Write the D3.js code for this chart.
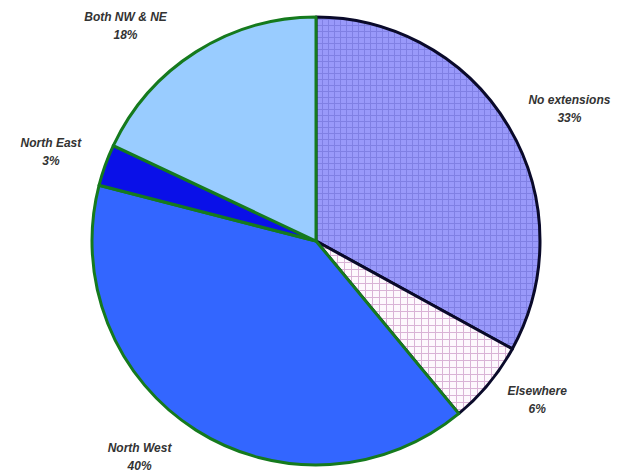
<!DOCTYPE html>
<html>
<head>
<meta charset="utf-8">
<script src="https://cdn.jsdelivr.net/npm/d3@7"></script>
<style>
  body { margin: 0; background: #fff; }
  text { font-family: "Liberation Sans", Arial, sans-serif; font-weight: bold; font-style: italic; fill: #333; font-size: 12px; }
</style>
</head>
<body>
<div id="chart"></div>
<script>
// slices, clockwise from 12 o'clock
const categories = ["No extensions", "Elsewhere", "North West", "North East", "Both NW & NE"];
const values = [33, 6, 40, 3, 18];
const labels = ["33%", "6%", "40%", "3%", "18%"];

const width = 626, height = 473;
const cx = 316, cy = 241, radius = 224;

// small hand nudges for the label placement (degrees, px)
const nudge = {
  "No extensions": {da: 3, dr: 6},
  "Elsewhere": {da: -4, dr: -8},
  "North West": {da: 7, dr: -2},
  "North East": {da: -1, dr: 0},
  "Both NW & NE": {da: -9, dr: 8}
};

const svg = d3.select("#chart")
  .append("svg")
  .attr("width", width)
  .attr("height", height);

const defs = svg.append("defs");

// fine grid over lavender
let p1 = defs.append("pattern")
  .attr("id", "gridPurple")
  .attr("patternUnits", "userSpaceOnUse")
  .attr("width", 6).attr("height", 6);
p1.append("rect").attr("width", 6).attr("height", 6).attr("fill", "#9999fa");
p1.append("path").attr("d", "M0,0.5H6M0.5,0V6")
  .attr("stroke", "#8080e4").attr("stroke-width", 1);

// open pink grid over white
let p2 = defs.append("pattern")
  .attr("id", "gridPink")
  .attr("patternUnits", "userSpaceOnUse")
  .attr("width", 7).attr("height", 7);
p2.append("rect").attr("width", 7).attr("height", 7).attr("fill", "#fdf8fd");
p2.append("path").attr("d", "M0,0.5H7M0.5,0V7")
  .attr("stroke", "#d9b3d6").attr("stroke-width", 1);

const fills = {
  "No extensions": "url(#gridPurple)",
  "Elsewhere": "url(#gridPink)",
  "North West": "#3366ff",
  "North East": "#0a10e8",
  "Both NW & NE": "#99ccff"
};
const strokes = {
  "No extensions": "#0a0a2a",
  "Elsewhere": "#0a0a2a",
  "North West": "#157a1d",
  "North East": "#157a1d",
  "Both NW & NE": "#157a1d"
};

const data = categories.map((c, i) => ({name: c, value: values[i], label: labels[i]}));

const pie = d3.pie().value(d => d.value).sort(null);
const arcs = pie(data);
const arc = d3.arc().innerRadius(0).outerRadius(radius);

const g = svg.append("g").attr("transform", `translate(${cx},${cy})`);

// dark-outlined slices first, green ones on top
const order = [0, 1, 2, 3, 4];
g.selectAll("path.slice")
  .data(order.map(i => arcs[i]))
  .enter()
  .append("path")
  .attr("class", "slice")
  .attr("d", arc)
  .attr("fill", d => fills[d.data.name])
  .attr("stroke", d => strokes[d.data.name])
  .attr("stroke-width", 3)
  .attr("stroke-linejoin", "round");

// labels
const labelR = 280;
const lab = g.selectAll("g.lab")
  .data(arcs)
  .enter()
  .append("g")
  .attr("class", "lab")
  .attr("transform", d => {
    const n = nudge[d.data.name];
    const a = (d.startAngle + d.endAngle) / 2 + n.da * Math.PI / 180;
    const r = labelR + n.dr;
    return `translate(${r * Math.sin(a)},${-r * Math.cos(a)})`;
  });

lab.append("text")
  .attr("text-anchor", "middle")
  .attr("y", -4)
  .text(d => d.data.name);
lab.append("text")
  .attr("text-anchor", "middle")
  .attr("y", 14)
  .text(d => d.data.label);
</script>
</body>
</html>
